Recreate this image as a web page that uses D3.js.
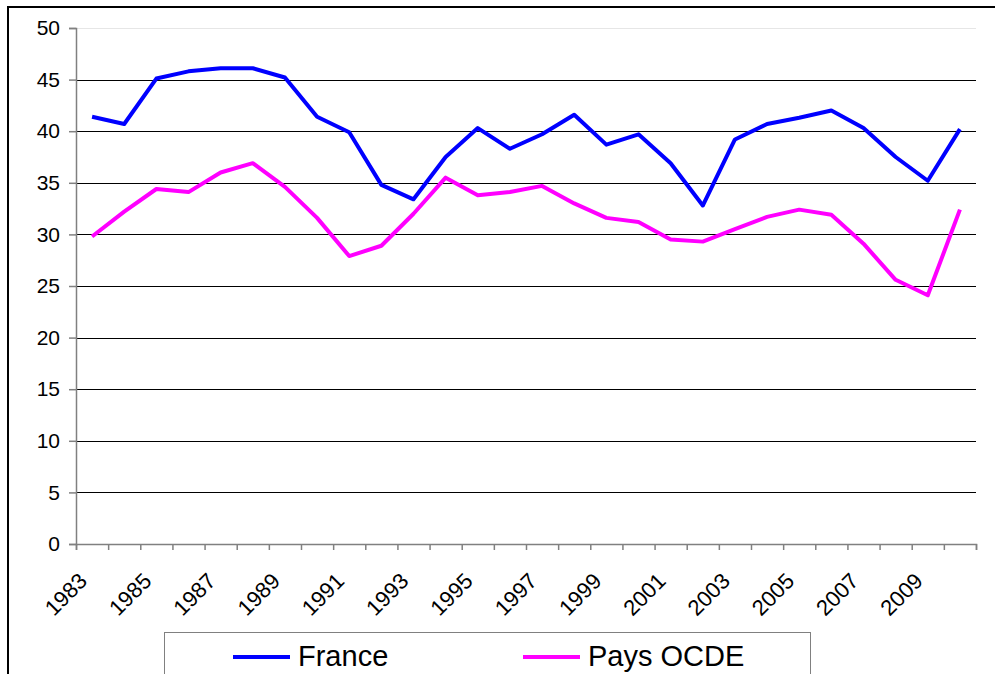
<!DOCTYPE html>
<html><head><meta charset="utf-8">
<script src="https://cdn.jsdelivr.net/npm/d3@7"></script>
<style>
body{margin:0;background:#fff;}
svg{display:block;font-family:Arial,"Liberation Sans",sans-serif;}
</style></head>
<body>
<svg id="chart" width="995" height="674"></svg>
<script>
const years = [1983,1984,1985,1986,1987,1988,1989,1990,1991,1992,1993,1994,1995,1996,1997,1998,1999,2000,2001,2002,2003,2004,2005,2006,2007,2008,2009,2010];
const france = [41.4,40.7,45.1,45.8,46.1,46.1,45.2,41.4,39.9,34.8,33.4,37.5,40.3,38.3,39.7,41.6,38.7,39.7,36.9,32.8,39.2,40.7,41.3,42.0,40.3,37.5,35.2,40.2];
const ocde = [29.8,32.2,34.4,34.1,36.0,36.9,34.6,31.6,27.9,28.9,32.0,35.5,33.8,34.1,34.7,33.0,31.6,31.2,29.5,29.3,30.5,31.7,32.4,31.9,29.1,25.6,24.1,32.4];
const yTicks = [0,5,10,15,20,25,30,35,40,45,50];
const seriesNames = ["France","Pays OCDE"];
const seriesColors = ["#0000FF","#FF00FF"];

const svg = d3.select("#chart");
const L = 76, R = 976, T = 28, B = 544;

// outer frame
svg.append("rect").attr("x",8).attr("y",7).attr("width",1100).attr("height",800)
  .attr("fill","none").attr("stroke","#000").attr("stroke-width",2);

const x = d3.scaleBand().domain(years).range([L,R]).padding(0);
const xb = d3.scaleLinear().domain([0,years.length]).range([L,R]);
const y = d3.scaleLinear().domain([0,50]).range([B,T]);

// gridlines
svg.append("g").selectAll("line").data(yTicks.filter(d=>d>0)).join("line")
  .attr("x1",L).attr("x2",R).attr("y1",d=>Math.round(y(d))+0.5).attr("y2",d=>Math.round(y(d))+0.5)
  .attr("stroke",d=>d===50?"#e6e6e6":"#000").attr("stroke-width",1);

// y axis
const yAxis = svg.append("g").attr("transform",`translate(${L},0)`)
  .call(d3.axisLeft(y).tickValues(yTicks).tickSize(7).tickPadding(9).tickFormat(d3.format("d")));
yAxis.select(".domain").attr("stroke","#808080").attr("stroke-width",1.5);
yAxis.selectAll(".tick line").attr("stroke","#808080").attr("stroke-width",1.5);
yAxis.selectAll(".tick text").attr("font-size",21).attr("fill","#000")
  .attr("font-family","Arial,'Liberation Sans',sans-serif");

// x axis ticks at boundaries
const xAxis = svg.append("g").attr("transform",`translate(0,${B})`)
  .call(d3.axisBottom(xb).tickValues(d3.range(0,years.length+1)).tickSize(6).tickFormat(""));
xAxis.select(".domain").attr("stroke","#808080").attr("stroke-width",1.5);
xAxis.selectAll(".tick line").attr("stroke","#808080").attr("stroke-width",1.5);

// x labels (every other year)
svg.append("g").selectAll("text").data(years.filter((d,i)=>i%2===0)).join("text")
  .attr("transform",d=>`translate(${x(d)+x.bandwidth()/2-9},${B+33}) rotate(-45)`)
  .attr("text-anchor","end").attr("dy","0.35em").attr("font-size",22).attr("fill","#000")
  .text(d=>d);

// lines
const line = d3.line().x((d,i)=>x(years[i])+x.bandwidth()/2).y(d=>y(d));
[france,ocde].forEach((s,k)=>{
  svg.append("path").datum(s).attr("d",line).attr("fill","none")
    .attr("stroke",seriesColors[k]).attr("stroke-width",4).attr("stroke-linejoin","round");
});

// legend
svg.append("rect").attr("x",164.5).attr("y",632.5).attr("width",646).attr("height",80)
  .attr("fill","#fff").attr("stroke","#808080").attr("stroke-width",1);
const legX = [233,523];
seriesNames.forEach((n,k)=>{
  svg.append("line").attr("x1",legX[k]).attr("x2",legX[k]+57).attr("y1",657).attr("y2",657)
    .attr("stroke",seriesColors[k]).attr("stroke-width",4);
  svg.append("text").attr("x",legX[k]+65).attr("y",666).attr("font-size",29).attr("fill","#000").text(n);
});
</script>
</body></html>
